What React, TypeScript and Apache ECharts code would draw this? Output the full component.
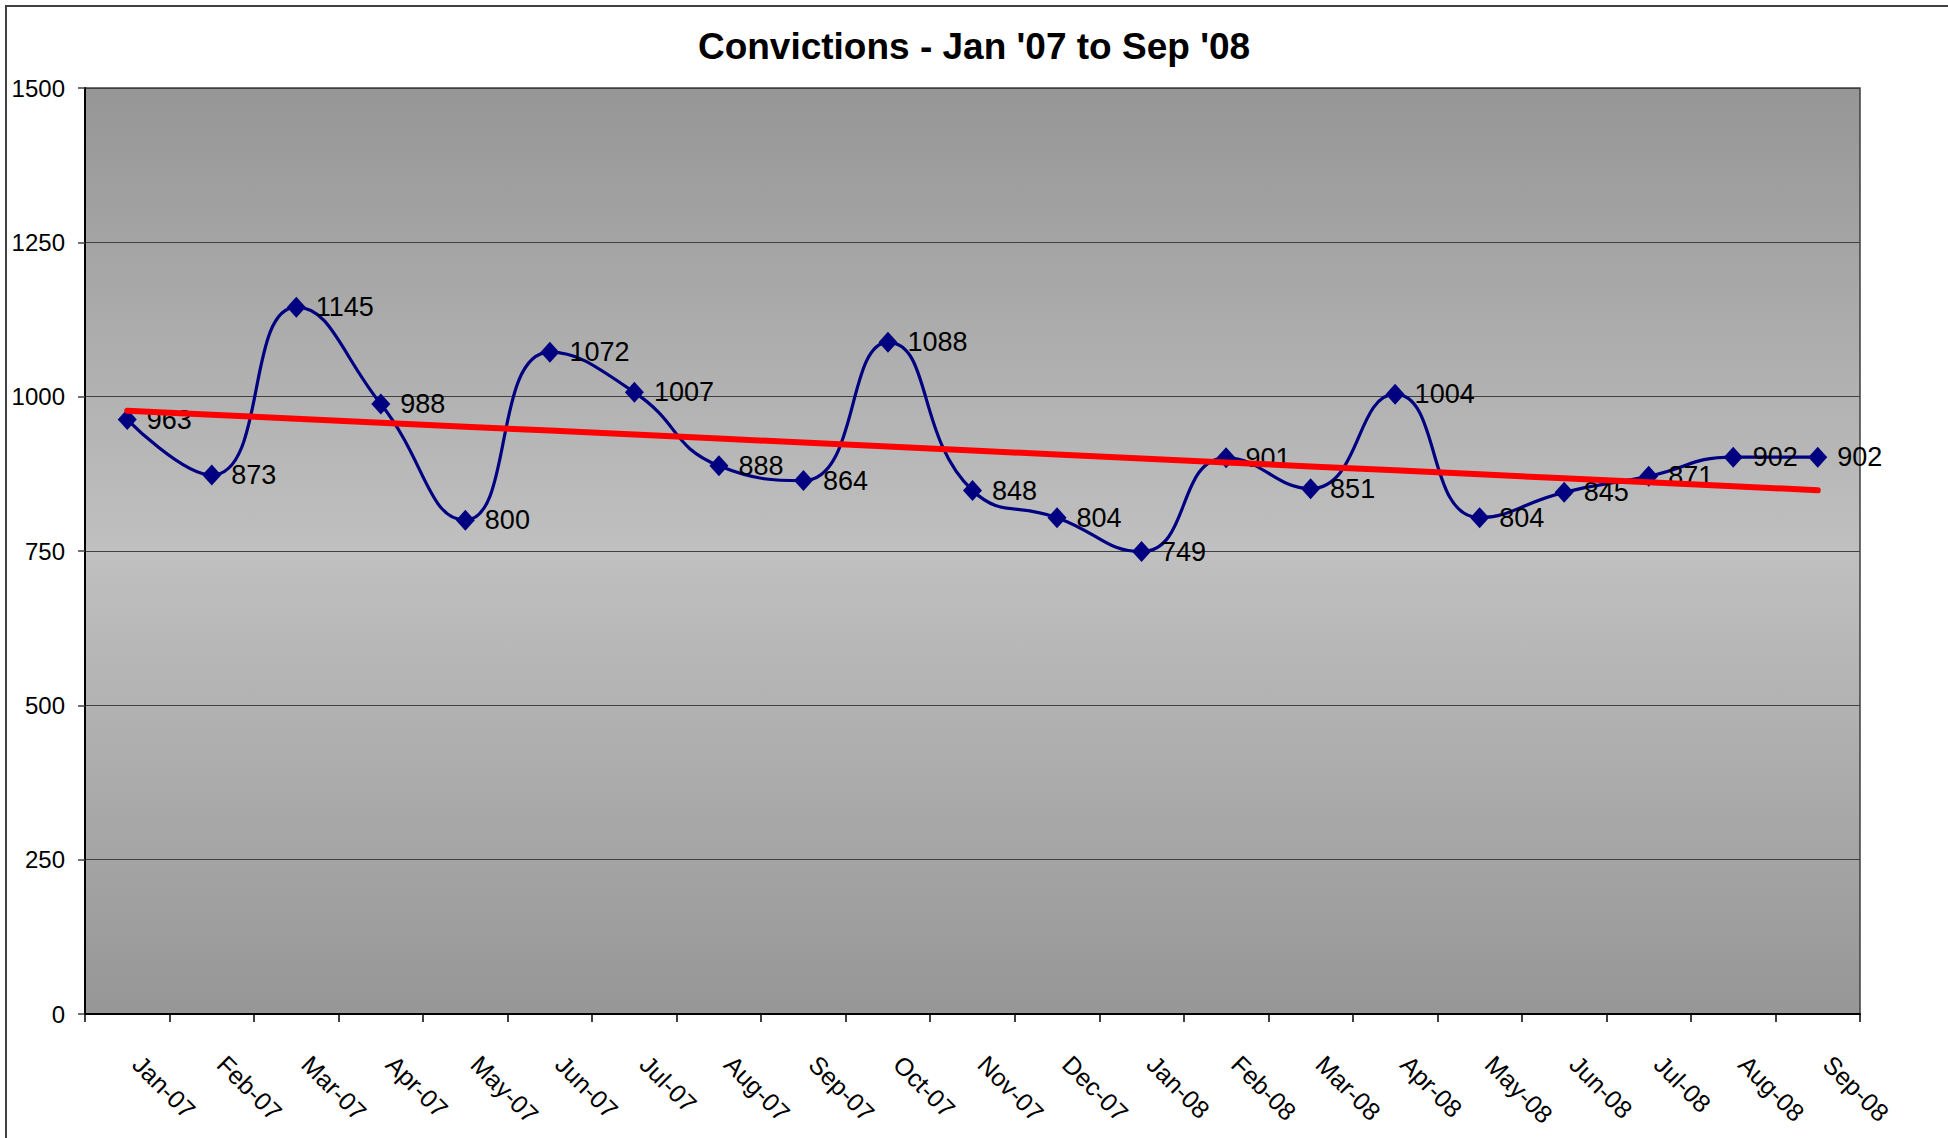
import React, { useEffect, useRef } from "react";
import * as echarts from "echarts";

const categories = [
  "Jan-07", "Feb-07", "Mar-07", "Apr-07", "May-07", "Jun-07", "Jul-07",
  "Aug-07", "Sep-07", "Oct-07", "Nov-07", "Dec-07", "Jan-08", "Feb-08",
  "Mar-08", "Apr-08", "May-08", "Jun-08", "Jul-08", "Aug-08", "Sep-08",
];

const convictions = [
  963, 873, 1145, 988, 800, 1072, 1007, 888, 864, 1088, 848, 804, 749, 901,
  851, 1004, 804, 845, 871, 902, 902,
];

const yTicks = { min: 0, max: 1500, interval: 250 };

const titleText = "Convictions - Jan '07 to Sep '08";

function linearTrend(values: number[]): number[] {
  const n = values.length;
  const mx = (n - 1) / 2;
  const my = values.reduce((a, b) => a + b, 0) / n;
  let sxy = 0;
  let sxx = 0;
  values.forEach((v, i) => {
    sxy += (i - mx) * (v - my);
    sxx += (i - mx) * (i - mx);
  });
  const slope = sxy / sxx;
  return values.map((_, i) => my + slope * (i - mx));
}

const FONT = "'Liberation Sans', Arial, sans-serif";

export default function App() {
  const ref = useRef<HTMLDivElement>(null);

  useEffect(() => {
    if (!ref.current) return;
    const chart = echarts.init(ref.current, undefined, { renderer: "svg" });
    const trend = linearTrend(convictions);

    chart.setOption({
      animation: false,
      backgroundColor: "#ffffff",
      textStyle: { fontFamily: FONT },
      title: {
        text: titleText,
        left: "center",
        top: 28,
        padding: 0,
        textStyle: {
          fontFamily: FONT,
          fontSize: 37,
          fontWeight: "bold",
          color: "#000000",
        },
      },
      graphic: [
        {
          type: "rect",
          shape: { x: 6, y: 6, width: 2000, height: 2000 },
          style: { fill: "none", stroke: "#404040", lineWidth: 2 },
          silent: true,
          z: 100,
        },
      ],
      grid: {
        left: 85,
        right: 88,
        top: 88,
        bottom: 124,
        show: true,
        borderColor: "#404040",
        borderWidth: 1.5,
        backgroundColor: {
          type: "linear",
          x: 0,
          y: 0,
          x2: 0,
          y2: 1,
          colorStops: [
            { offset: 0, color: "#969696" },
            { offset: 0.5, color: "#c0c0c0" },
            { offset: 1, color: "#969696" },
          ],
        },
      },
      xAxis: {
        type: "category",
        data: categories,
        boundaryGap: true,
        axisLine: { show: true, lineStyle: { color: "#000000", width: 2 } },
        axisTick: {
          show: true,
          length: 8,
          interval: 0,
          lineStyle: { color: "#000000", width: 1.5 },
        },
        axisLabel: {
          interval: 0,
          rotate: -45,
          margin: 36,
          padding: [0, 0, 0, 14],
          fontFamily: FONT,
          fontSize: 25,
          color: "#000000",
        },
        splitLine: { show: false },
      },
      yAxis: {
        type: "value",
        min: yTicks.min,
        max: yTicks.max,
        interval: yTicks.interval,
        axisLine: { show: true, lineStyle: { color: "#000000", width: 2 } },
        axisTick: {
          show: true,
          length: 7,
          lineStyle: { color: "#404040", width: 1.5 },
        },
        axisLabel: {
          margin: 20,
          fontFamily: FONT,
          fontSize: 24,
          color: "#000000",
          formatter: (v: number) => String(v),
        },
        splitLine: { show: true, lineStyle: { color: "#404040", width: 1.2 } },
      },
      series: [
        {
          name: "Convictions",
          type: "line",
          data: convictions,
          smooth: 0.5,
          symbol: "diamond",
          symbolSize: [19, 21],
          itemStyle: { color: "#000080" },
          lineStyle: { color: "#000080", width: 3.2 },
          label: {
            show: true,
            position: "right",
            distance: 10,
            fontFamily: FONT,
            fontSize: 27,
            color: "#000000",
          },
          z: 2,
        },
        {
          name: "Trend",
          type: "line",
          data: trend,
          smooth: false,
          symbol: "none",
          lineStyle: { color: "#ff0000", width: 6, cap: "round" },
          z: 3,
          silent: true,
        },
      ],
    });

    return () => chart.dispose();
  }, []);

  return (
    <div
      ref={ref}
      style={{ position: "fixed", left: 0, top: 0, width: 1948, height: 1138 }}
    />
  );
}
